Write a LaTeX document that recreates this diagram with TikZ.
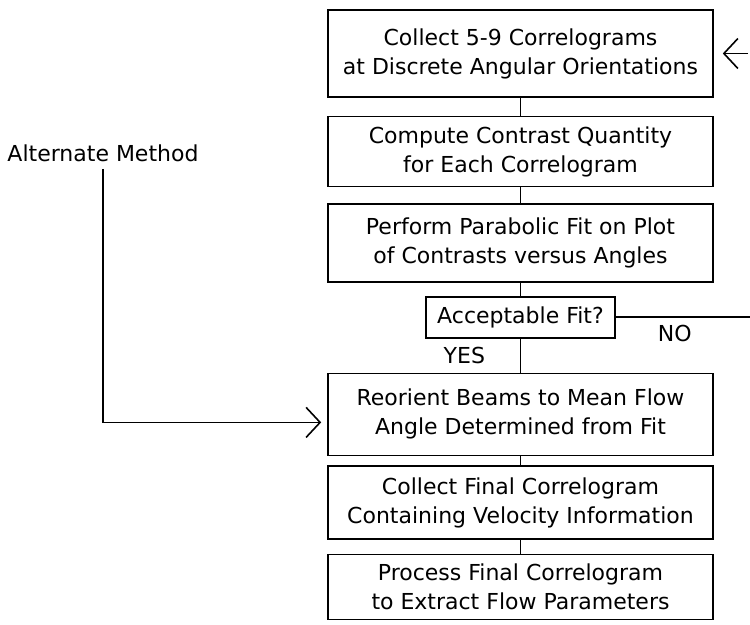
\documentclass[tikz,border=0pt]{standalone}
\usepackage{fontspec}
\setmainfont{DejaVu Sans}
\usetikzlibrary{arrows.meta,positioning}

\begin{document}
\begin{tikzpicture}[x=0.5pt, y=-0.5pt, thick, node distance=10pt, >={Straight Barb[length=7pt,width=15pt]}]
\tikzstyle{every node} = [font=\fontsize{11}{14.5}\selectfont]
\tikzstyle{box} = [draw, align=center, minimum width=192.5pt, inner sep=2pt]
\useasboundingbox (0,0) rectangle (750,625);
\node[box, minimum height=43.5pt] (1) at (520.5,53.5) {Collect 5-9 Correlograms\\at Discrete Angular Orientations};
\node[box, minimum height=35pt, below=9pt of 1] (2) {Compute Contrast Quantity\\for Each Correlogram};
\node[box, minimum height=39pt, below=8pt of 2] (3) {Perform Parabolic Fit on Plot\\of Contrasts versus Angles};
\node[draw, minimum width=94.5pt, minimum height=20.5pt, below=6.5pt of 3] (fit) {Acceptable Fit?};
\node[box, minimum height=41pt, below=17pt of fit] (4) {Reorient Beams to Mean Flow\\Angle Determined from Fit};
\node[box, minimum height=36.5pt, below=4.5pt of 4] (5) {Collect Final Correlogram\\Containing Velocity Information};
\node[box, minimum height=32.5pt, below=7pt of 5] (6) {Process Final Correlogram\\to Extract Flow Parameters};
\node (alt) at (103,153) {Alternate Method};
\coordinate (noend) at (fit.east -| 750,0);
\coordinate (back) at (1.east -| 748,0);
\foreach \from/\to in {1/2, 2/3, 3/fit, 4/5, 5/6}
  \draw (\from) -- (\to);
\draw (fit) -- (4) node[midway, left=14pt] {YES};
\draw (fit.east) -- (noend) node[pos=0.44, below] {NO};
\draw[->, shorten >=4.5pt] (back) -- (1.east);
\draw[->, shorten >=3pt] (alt.south) |- ([yshift=-4pt]4.west);
\end{tikzpicture}
\end{document}
